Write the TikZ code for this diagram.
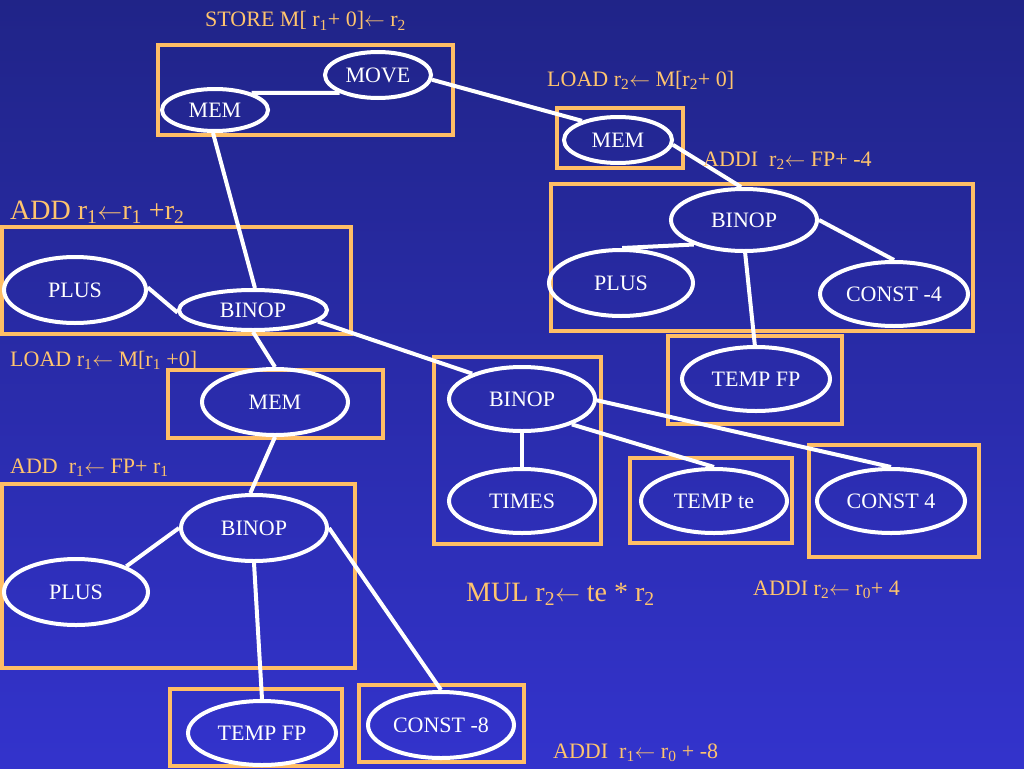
\documentclass[tikz,border=0pt]{standalone}
\usepackage{fontspec}
\setmainfont{Liberation Serif}
\usetikzlibrary{shapes.geometric}
\definecolor{bgtop}{RGB}{32,36,136}
\definecolor{bgbot}{RGB}{51,51,204}
\definecolor{boxor}{RGB}{255,190,102}
\definecolor{labor}{RGB}{255,196,110}
\newcommand{\sbt}[1]{\textsubscript{#1}}
\newcommand{\la}{$\leftarrow$}
\tikzset{
  en/.style={ellipse, draw=white, line width=4pt, inner sep=0pt, text=white,
    font=\fontsize{22}{26}\selectfont},
  obox/.style={draw=boxor, line width=4pt},
  conn/.style={draw=white, line width=4pt},
  lab/.style={anchor=base west, inner sep=0pt, text=labor, font=\fontsize{22}{26}\selectfont},
  biglab/.style={anchor=base west, inner sep=0pt, text=labor, font=\fontsize{28}{32}\selectfont}
}
\begin{document}
\begin{tikzpicture}[x=1pt,y=-1pt]
\useasboundingbox (0,0) rectangle (1024,768);
\fill[top color=bgtop, bottom color=bgbot] (0,0) rectangle (1024,768);
% boxes
\draw[obox] (158,45) rectangle (453,135);
\draw[obox] (557,108) rectangle (683,168);
\draw[obox] (551,184) rectangle (973,331);
\draw[obox] (668,336) rectangle (842,424);
\draw[obox] (2,227) rectangle (351,334);
\draw[obox] (168,370) rectangle (383,438);
\draw[obox] (2,484) rectangle (355,668);
\draw[obox] (170,689) rectangle (342,766);
\draw[obox] (359,685) rectangle (524,762);
\draw[obox] (434,357) rectangle (601,544);
\draw[obox] (630,458) rectangle (792,543);
\draw[obox] (809,445) rectangle (979,557);
% ellipse nodes
\node[en, minimum width=106, minimum height=46] (move) at (378,75) {MOVE};
\node[en, minimum width=106, minimum height=42] (mem1) at (215,110) {MEM};
\node[en, minimum width=108, minimum height=46] (mem2) at (618,140) {MEM};
\node[en, minimum width=146, minimum height=62] (binopR) at (744,220) {BINOP};
\node[en, minimum width=144, minimum height=66] (plusR) at (621,283) {PLUS};
\node[en, minimum width=148, minimum height=64] (constR) at (894,294) {CONST -4};
\node[en, minimum width=148, minimum height=64] (tempR) at (756,379) {TEMP FP};
\node[en, minimum width=142, minimum height=66] (plusL) at (75,290) {PLUS};
\node[en, minimum width=148, minimum height=40] (binopL) at (253,310) {BINOP};
\node[en, minimum width=146, minimum height=66] (memM) at (275,402) {MEM};
\node[en, minimum width=146, minimum height=66] (binopB) at (254,528) {BINOP};
\node[en, minimum width=144, minimum height=66] (plusB) at (76,592) {PLUS};
\node[en, minimum width=148, minimum height=64] (tempB) at (262,733) {TEMP FP};
\node[en, minimum width=146, minimum height=66] (const8) at (441,725) {CONST -8};
\node[en, minimum width=146, minimum height=64] (binopM) at (522,399) {BINOP};
\node[en, minimum width=146, minimum height=64] (times) at (522,501) {TIMES};
\node[en, minimum width=146, minimum height=64] (tempte) at (714,501) {TEMP te};
\node[en, minimum width=148, minimum height=64] (const4) at (891,501) {CONST 4};
% connectors
\draw[conn] (mem1.25) -- (move.205);
\draw[conn] (move.-5) -- (mem2.152);
\draw[conn] (mem2.-5) -- (binopR.95);
\draw[conn] (binopR.206) -- (plusR.88);
\draw[conn] (binopR.0) -- (constR.90);
\draw[conn] (binopR.-88) -- (tempR.92);
\draw[conn] (mem1.-95) -- (binopL.85);
\draw[conn] (plusL.2) -- (binopL.182);
\draw[conn] (binopL.-10) -- (binopM.153);
\draw[conn] (binopL.-90) -- (memM.90);
\draw[conn] (memM.-90) -- (binopB.96);
\draw[conn] (binopB.180) -- (plusB.27);
\draw[conn] (binopB.-90) -- (tempB.90);
\draw[conn] (binopB.0) -- (const8.90);
\draw[conn] (binopM.-90) -- (times.90);
\draw[conn] (binopM.-27) -- (tempte.90);
\draw[conn] (binopM.-1) -- (const4.90);
% labels
\node[lab] (l1) at (205,27) {STORE M[ r\sbt{1}+ 0]\la\ r\sbt{2}};
\node[lab] (l2) at (547,86) {LOAD r\sbt{2}\la\ M[r\sbt{2}+ 0]};
\node[lab] (l3) at (703,166) {ADDI\ \ r\sbt{2}\la\ FP+ -4};
\node[biglab] (l4) at (10,219) {ADD r\sbt{1}\la r\sbt{1} +r\sbt{2}};
\node[lab] (l5) at (10,366) {LOAD r\sbt{1}\la\ M[r\sbt{1} +0]};
\node[lab] (l6) at (10,473) {ADD\ \ r\sbt{1}\la\ FP+ r\sbt{1}};
\node[biglab] (l7) at (466,601) {MUL r\sbt{2}\la\ te * r\sbt{2}};
\node[lab] (l8) at (753,595) {ADDI r\sbt{2}\la\ r\sbt{0}+ 4};
\node[lab] (l9) at (553,758) {ADDI\ \ r\sbt{1}\la\ r\sbt{0} + -8};
\end{tikzpicture}
\end{document}
